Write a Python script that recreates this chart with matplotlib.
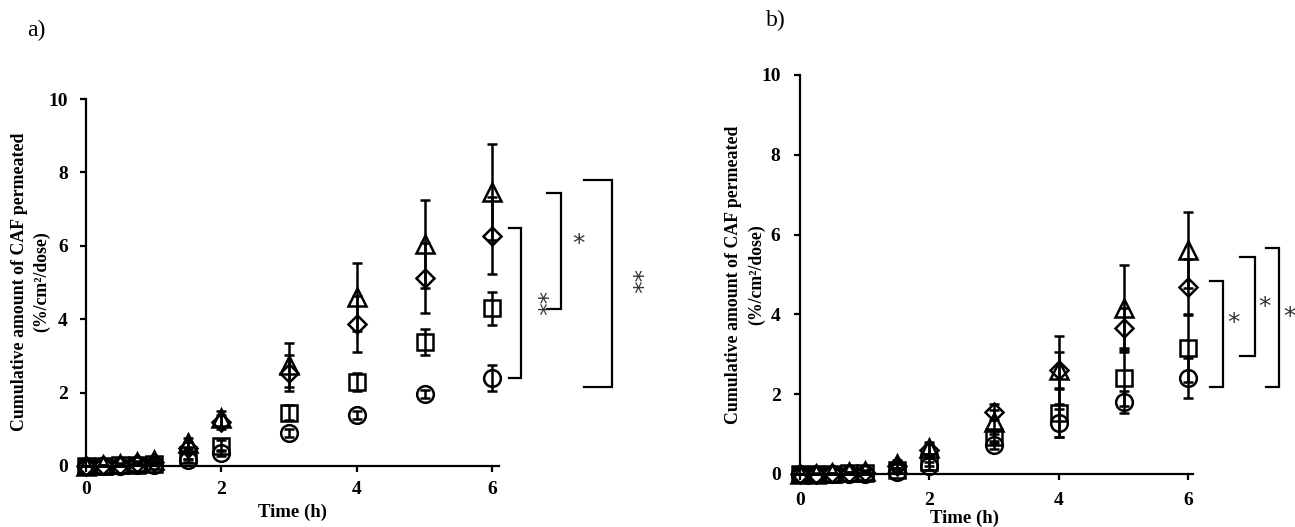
import matplotlib
matplotlib.use("Agg")
import matplotlib.pyplot as plt

plt.rcParams['font.family'] = ['Liberation Serif', 'DejaVu Serif']

time_h = [0, 0.25, 0.5, 0.75, 1, 1.5, 2, 3, 4, 5, 6]

# Panel a
a_circle = [0, 0, 0.01, 0.02, 0.03, 0.15, 0.35, 0.9, 1.39, 1.96, 2.4]
a_square = [0, 0.01, 0.02, 0.04, 0.06, 0.3, 0.55, 1.45, 2.29, 3.38, 4.3]
a_diamond = [0, 0.02, 0.04, 0.08, 0.12, 0.5, 1.2, 2.53, 3.87, 5.12, 6.27]
a_triangle = [0, 0.03, 0.06, 0.1, 0.17, 0.62, 1.3, 2.75, 4.6, 6.05, 7.47]
a_circle_err = [0, 0, 0, 0, 0.01, 0.05, 0.08, 0.1, 0.1, 0.1, 0.35]
a_square_err = [0, 0, 0.01, 0.01, 0.02, 0.1, 0.15, 0.2, 0.25, 0.35, 0.45]
a_diamond_err = [0, 0.01, 0.02, 0.03, 0.04, 0.15, 0.2, 0.5, 0.77, 0.95, 1.05]
a_triangle_err = [0, 0.01, 0.02, 0.03, 0.05, 0.15, 0.2, 0.6, 0.93, 1.2, 1.3]

# Panel b
b_circle = [0, 0, 0, 0, 0.01, 0.05, 0.2, 0.72, 1.27, 1.8, 2.4]
b_square = [0, 0, 0.01, 0.02, 0.03, 0.1, 0.3, 0.93, 1.52, 2.4, 3.15]
b_diamond = [0, 0.01, 0.02, 0.03, 0.05, 0.2, 0.6, 1.55, 2.6, 3.65, 4.69]
b_triangle = [0, 0.01, 0.02, 0.04, 0.07, 0.25, 0.65, 1.3, 2.6, 4.15, 5.61]
b_circle_err = [0, 0, 0, 0, 0, 0.03, 0.1, 0.1, 0.35, 0.28, 0.5]
b_square_err = [0, 0, 0, 0, 0.01, 0.05, 0.1, 0.15, 0.6, 0.7, 0.85]
b_diamond_err = [0, 0, 0.01, 0.01, 0.02, 0.08, 0.15, 0.2, 0.45, 0.5, 0.7]
b_triangle_err = [0, 0.01, 0.01, 0.02, 0.03, 0.1, 0.15, 0.3, 0.85, 1.09, 0.96]

x_ticks = [0, 2, 4, 6]
y_ticks = [0, 2, 4, 6, 8, 10]

# significance brackets: (y_top, y_bottom, x_vertical, x_left, label, x_label, y_label)
a_brackets = [
    (6.48, 2.40, 6.43, 6.25, '**', 6.65, 4.44),
    (7.44, 4.28, 7.02, 6.81, '*', 7.27, 6.05),
    (7.80, 2.15, 7.77, 7.35, '**', 8.05, 5.04),
]
b_brackets = [
    (4.84, 2.18, 6.54, 6.34, '*', 6.69, 3.78),
    (5.44, 2.96, 7.03, 6.80, '*', 7.17, 4.19),
    (5.66, 2.18, 7.40, 7.19, '*', 7.56, 3.93),
]

fig = plt.figure(figsize=(12.95, 5.27), dpi=100)
ax_a = fig.add_axes([86/1295, 1-466/527, (499-86)/1295, (466-99)/527])
ax_b = fig.add_axes([800/1295, 1-474/527, (1193-800)/1295, (474-75)/527])

series_style = ['o', 's', 'D', '^']
msizes = {'o': 12, 's': 12, 'D': 9.5, '^': 12.5}


def draw(ax, vals, errs, xmax, brackets):
    for mk, v, e in zip(series_style, vals, errs):
        ax.errorbar(time_h, v, yerr=e, fmt=mk, ms=msizes[mk], mfc='none', mec='black',
                    mew=1.8, ecolor='black', elinewidth=1.8, capsize=3.5, capthick=1.8,
                    clip_on=False, zorder=3)
    ax.set_xlim(0, xmax)
    ax.set_ylim(0, 10)
    ax.set_xticks(x_ticks)
    ax.set_yticks(y_ticks)
    for s in ['top', 'right']:
        ax.spines[s].set_visible(False)
    for s in ['left', 'bottom']:
        ax.spines[s].set_linewidth(1.6)
    ax.tick_params(direction='out', length=4, width=1.6, labelsize=14)
    for lab in ax.get_xticklabels() + ax.get_yticklabels():
        lab.set_fontweight('bold')
    for (yt, yb, xv, xl, lab, xs, ys) in brackets:
        ax.plot([xl, xv, xv, xl], [yt, yt, yb, yb], color='black', lw=1.6,
                clip_on=False, solid_joinstyle='miter')
        ax.text(xs, ys, lab, rotation=-90 if len(lab) > 1 else 0, ha='center', va='center',
                fontsize=18, color='#333333', family=['DejaVu Sans'], clip_on=False)


draw(ax_a, [a_circle, a_square, a_diamond, a_triangle],
     [a_circle_err, a_square_err, a_diamond_err, a_triangle_err], 6.1, a_brackets)
draw(ax_b, [b_circle, b_square, b_diamond, b_triangle],
     [b_circle_err, b_square_err, b_diamond_err, b_triangle_err], 6.07, b_brackets)

ax_a.tick_params(axis='x', pad=7)
ax_a.tick_params(axis='y', pad=9)
ax_b.tick_params(axis='x', pad=9)
ax_b.tick_params(axis='y', pad=10)

fs_lab = 12.8
fig.text(20/1295, 1-282/527, 'Cumulative amount of CAF permeated', rotation=90, ha='center',
         va='center', fontsize=fs_lab, fontweight='bold')
fig.text(42/1295, 1-282/527, '(%/cm²/dose)', rotation=90, ha='center', va='center',
         fontsize=fs_lab, fontweight='bold')
fig.text(734/1295, 1-275/527, 'Cumulative amount of CAF permeated', rotation=90, ha='center',
         va='center', fontsize=fs_lab, fontweight='bold')
fig.text(757/1295, 1-275/527, '(%/cm²/dose)', rotation=90, ha='center', va='center',
         fontsize=fs_lab, fontweight='bold')

fig.text(293/1295, 1-512/527, 'Time (h)', ha='center', va='center', fontsize=13.5, fontweight='bold')
fig.text(965/1295, 1-518/527, 'Time (h)', ha='center', va='center', fontsize=13.5, fontweight='bold')

fig.text(36/1295, 1-30/527, 'a)', ha='center', va='center', fontsize=17)
fig.text(776/1295, 1-20/527, 'b)', ha='center', va='center', fontsize=17)

fig.savefig('out.png', dpi=100)
